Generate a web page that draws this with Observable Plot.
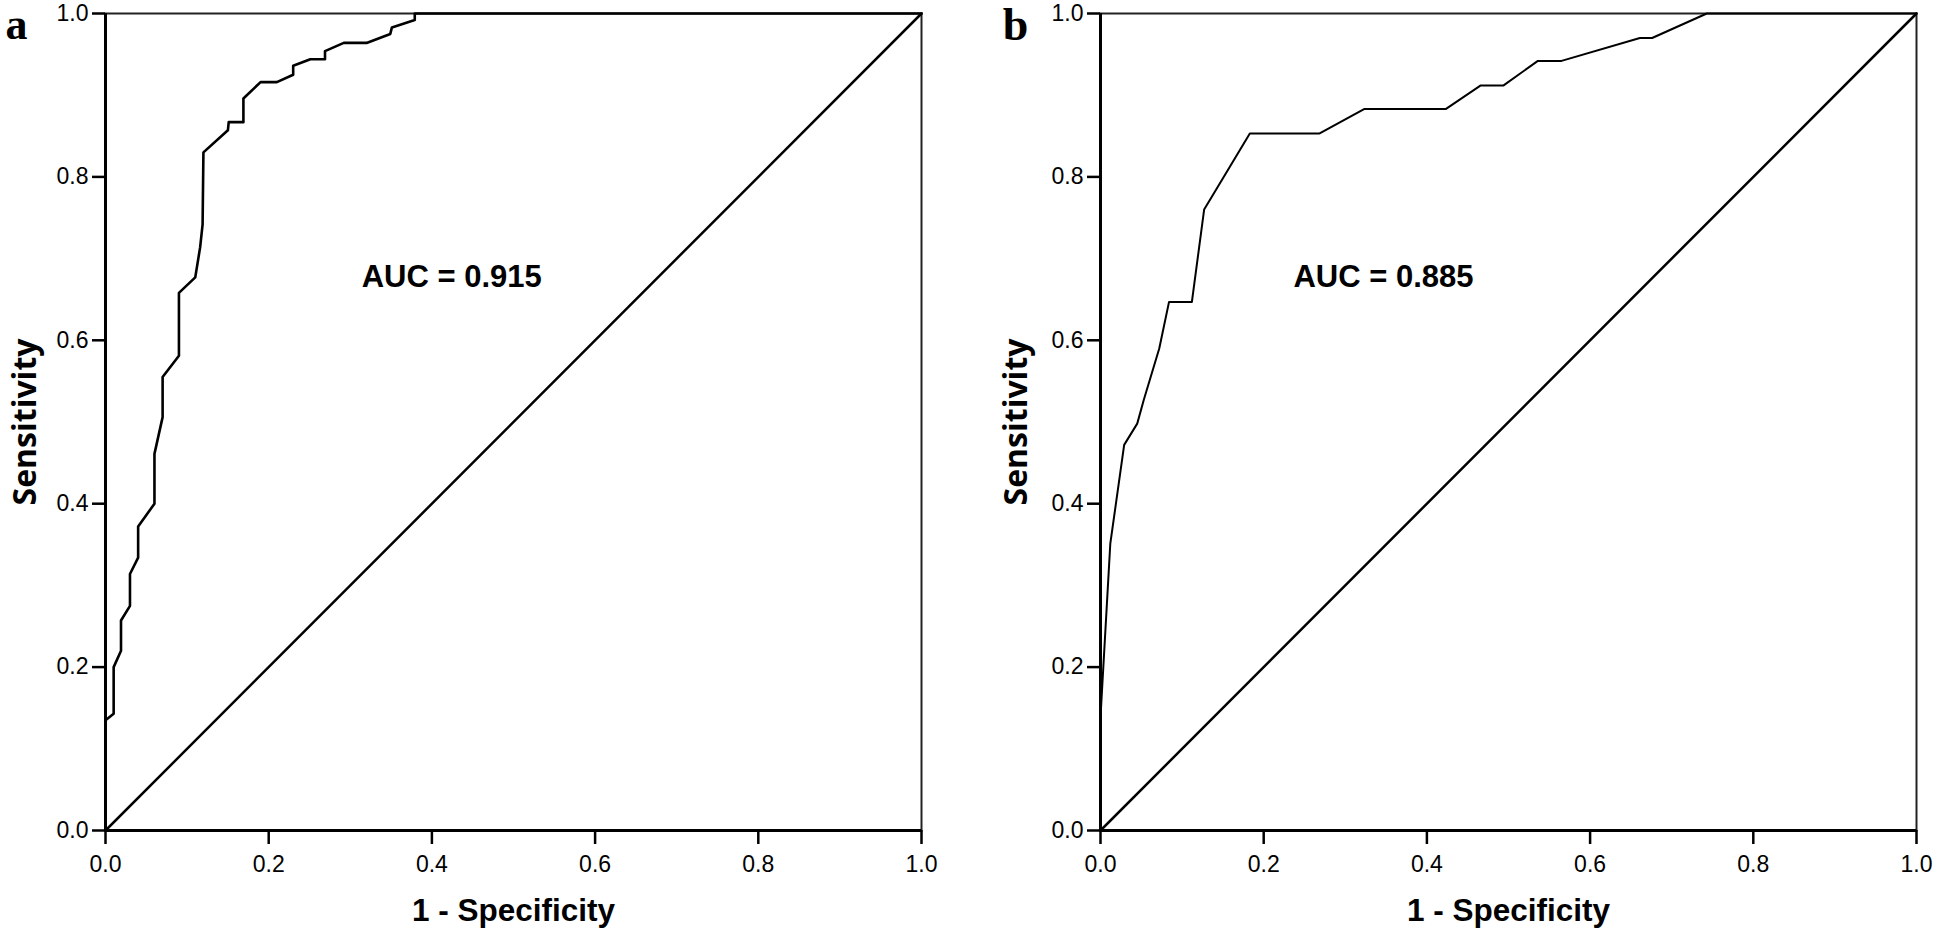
<!DOCTYPE html>
<html>
<head>
<meta charset="utf-8">
<script src="https://cdn.jsdelivr.net/npm/d3@7"></script>
<script src="https://cdn.jsdelivr.net/npm/@observablehq/plot@0.6"></script>
<style>
  html, body { margin: 0; padding: 0; background: #fff; overflow: hidden; }
  #wrap { display: flex; flex-direction: row; width: 1937px; height: 935px; }
  svg { display: block; }
</style>
</head>
<body>
<div id="wrap"></div>
<script>
// ---- data ----
const tickValues = [0, 0.2, 0.4, 0.6, 0.8, 1.0];
const panelLetters = ["a", "b"];
const xTitle = "1 - Specificity";
const yTitle = "Sensitivity";
const aucLabels = ["AUC = 0.915", "AUC = 0.885"];
const aucX = [0.314, 0.2365];
const aucY = [0.677, 0.677];
const diagX = [0, 1];
const diagY = [0, 1];

// Panel a ROC curve (1 - specificity, sensitivity)
const rocA_x = [0, 0, 0.010, 0.010, 0.019, 0.019, 0.030, 0.030, 0.040, 0.040, 0.060, 0.060, 0.070, 0.070, 0.090, 0.090, 0.110, 0.116, 0.119, 0.120, 0.150, 0.151, 0.169, 0.169, 0.190, 0.210, 0.230, 0.230, 0.251, 0.269, 0.269, 0.292, 0.320, 0.349, 0.351, 0.379, 0.379, 1.0];
const rocA_y = [0, 0.135, 0.143, 0.200, 0.220, 0.257, 0.275, 0.314, 0.334, 0.372, 0.400, 0.461, 0.506, 0.555, 0.581, 0.658, 0.677, 0.714, 0.742, 0.830, 0.857, 0.867, 0.867, 0.896, 0.916, 0.916, 0.925, 0.936, 0.944, 0.944, 0.954, 0.964, 0.964, 0.975, 0.983, 0.992, 1.0, 1.0];

// Panel b ROC curve
const rocB_x = [0, 0, 0.012, 0.029, 0.045, 0.053, 0.072, 0.084, 0.112, 0.127, 0.139, 0.183, 0.268, 0.323, 0.423, 0.466, 0.494, 0.536, 0.565, 0.661, 0.676, 0.743, 1.0];
const rocB_y = [0, 0.139, 0.351, 0.472, 0.498, 0.527, 0.590, 0.647, 0.647, 0.760, 0.780, 0.853, 0.853, 0.883, 0.883, 0.912, 0.912, 0.942, 0.942, 0.970, 0.970, 1.0, 1.0];

const toRows = (xs, ys) => xs.map((x, i) => ({x, y: ys[i]}));

function panel(i, rocX, rocY, opts) {
  const roc = toRows(rocX, rocY);
  const diag = toRows(diagX, diagY);
  return Plot.plot({
    width: opts.width,
    height: 935,
    marginLeft: opts.marginLeft,
    marginRight: opts.marginRight,
    marginTop: 13,
    marginBottom: 105,
    style: {fontFamily: "'Liberation Sans', Arial, sans-serif", fontSize: "23px", color: "#000", background: "#fff"},
    x: {domain: [0, 1]},
    y: {domain: [0, 1]},
    marks: [
      Plot.frame({stroke: "#222", strokeWidth: 2}),
      Plot.axisX({ticks: tickValues, tickFormat: d => d.toFixed(1), tickSize: 14, tickPadding: 11, strokeWidth: 2.5, label: null}),
      Plot.axisY({ticks: tickValues, tickFormat: d => d.toFixed(1), tickSize: 13, tickPadding: 4, strokeWidth: 2.5, label: null}),
      Plot.ruleY([0], {stroke: "#000", strokeWidth: 3}),
      Plot.ruleX([0], {stroke: "#000", strokeWidth: 3}),
      Plot.line(diag, {x: "x", y: "y", stroke: "#000", strokeWidth: 2.5}),
      Plot.line(roc, {x: "x", y: "y", stroke: "#000", strokeWidth: opts.curveWidth}),
      Plot.text([aucLabels[i]], {x: aucX[i], y: aucY[i], text: d => d, textAnchor: "start", lineAnchor: "middle", fontSize: 31, fontWeight: "bold", fontFamily: "'Liberation Sans', Arial, sans-serif", fill: "#000"}),
      Plot.text([yTitle], {frameAnchor: "left", text: d => d, rotate: -90, dx: opts.yTitleDx, textAnchor: "middle", lineAnchor: "middle", fontSize: 32, fontWeight: "bold", fontFamily: "'Open Sans', sans-serif", fill: "#000"}),
      Plot.text([xTitle], {frameAnchor: "bottom", text: d => d, dy: 80, textAnchor: "middle", lineAnchor: "middle", fontSize: 31.5, fontWeight: "bold", fontFamily: "'Liberation Sans', Arial, sans-serif", fill: "#000"}),
      Plot.text([panelLetters[i]], {frameAnchor: "top-left", text: d => d, dx: opts.letterDx, dy: opts.letterDy, textAnchor: "middle", lineAnchor: "middle", fontSize: opts.letterSize, fontWeight: "bold", fontFamily: "'Liberation Serif', 'Times New Roman', serif", fill: "#000"})
    ]
  });
}

const wrap = document.getElementById("wrap");
wrap.append(panel(0, rocA_x, rocA_y, {width: 968, marginLeft: 105, marginRight: 47, curveWidth: 2.6, letterDx: -89, letterDy: 11, letterSize: 44, yTitleDx: -80}));
wrap.append(panel(1, rocB_x, rocB_y, {width: 969, marginLeft: 132, marginRight: 21, curveWidth: 2, letterDx: -85, letterDy: 12, letterSize: 46, yTitleDx: -84}));
</script>
</body>
</html>
